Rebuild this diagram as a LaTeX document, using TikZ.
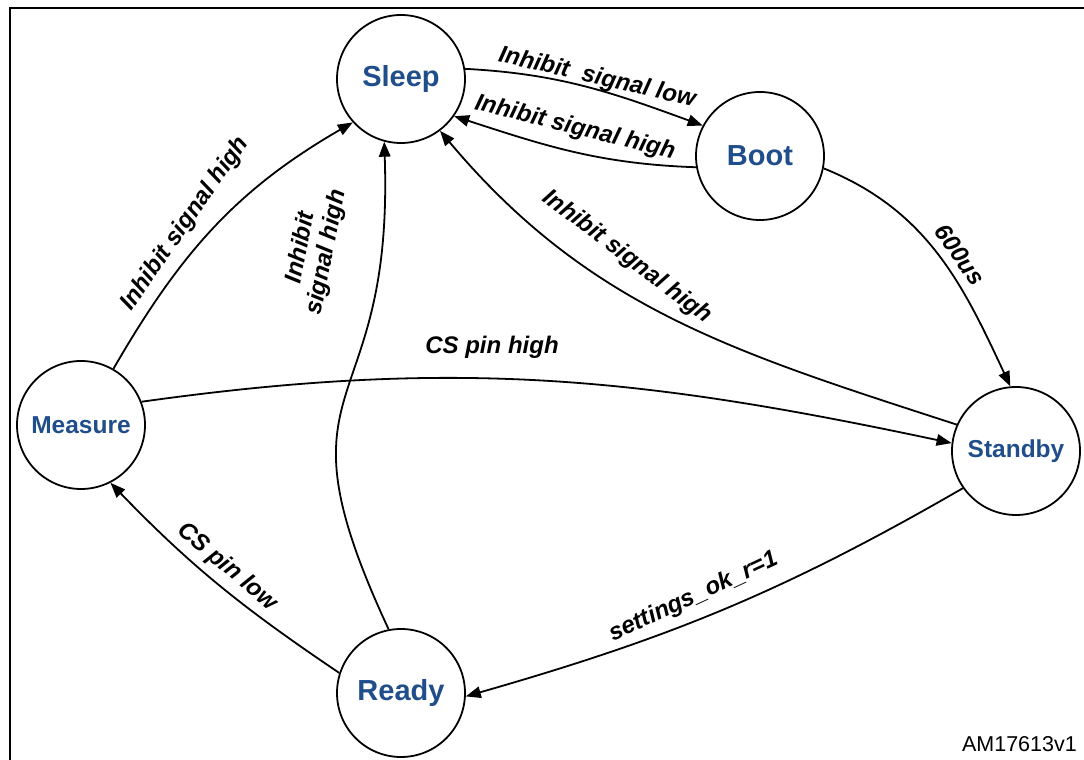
\documentclass[tikz,border=0pt]{standalone}
\usepackage{fontspec}
\setmainfont{Liberation Sans}
\usetikzlibrary{arrows.meta}
\definecolor{stateblue}{RGB}{31,78,139}
\begin{document}
\begin{tikzpicture}[x=1pt,y=1pt,
  state/.style={circle,draw,line width=1.8pt,minimum size=128pt,inner sep=0pt,
    text=stateblue,font=\fontsize{29}{31}\selectfont\bfseries},
  smallstate/.style={state,font=\fontsize{24.5}{27}\selectfont\bfseries},
  trans/.style={line width=1.8pt,-{Triangle[length=15pt,width=11.5pt]}},
  lbl/.style={font=\fontsize{24}{26}\selectfont\bfseries\itshape,inner sep=0pt,align=center}]
\useasboundingbox (0,0) rectangle (1084,760);
% frame
\draw[line width=2pt] (10,-2) -- (10,752) -- (1086,752);

% states
\node[state] (sleep) at (401,681) {Sleep};
\node[state] (boot) at (760,604) {Boot};
\node[smallstate] (standby) at (1016,309) {Standby};
\node[smallstate] (measure) at (81,335) {Measure};
\node[state] (ready) at (401,67) {Ready};

% transitions
\draw[trans] (sleep.9) to[out=-3,in=160] (boot.152);
\draw[trans] (boot.-170) to[out=178,in=-18] (sleep.-35);
\draw[trans] (boot.-11) to[out=-22,in=115] (standby.95);
\draw[trans] (standby.156) to[out=162,in=-50] (sleep.-53);
\draw[trans] (measure.21) to[out=8,in=168] (standby.173);
\draw[trans] (measure.60) to[out=60,in=-150] (sleep.-138);
\draw[trans] (ready.101) to[out=115,in=-88,looseness=1.5] (sleep.-105);
\draw[trans] (ready.162) to[out=146,in=-46] (measure.-63);
\draw[trans] (standby.-145) to[out=210,in=16] (ready.-3);

% transition labels
\node[lbl,rotate=-13] (l1) at (597,682) {Inhibit\ \ signal low};
\node[lbl,rotate=-14] (l2) at (575,632) {Inhibit signal high};
\node[lbl,rotate=-55] (l3) at (960,505) {600us};
\node[lbl,rotate=-37] (l4) at (627,503) {Inhibit signal high};
\node[lbl] (l5) at (492,413) {CS pin high};
\node[lbl,rotate=55] (l6) at (185,536) {Inhibit signal high};
\node[lbl,rotate=79] (l7) at (314,510) {Inhibit\\signal high};
\node[lbl,rotate=-40] (l8) at (227,193) {CS pin low};
\node[lbl,rotate=25] (l9) at (694,163) {settings\_ok\_r=1};

\node[anchor=base east,font=\fontsize{21.5}{24}\selectfont,inner sep=0pt] (ref) at (1077,8) {AM17613v1};
\end{tikzpicture}
\end{document}
